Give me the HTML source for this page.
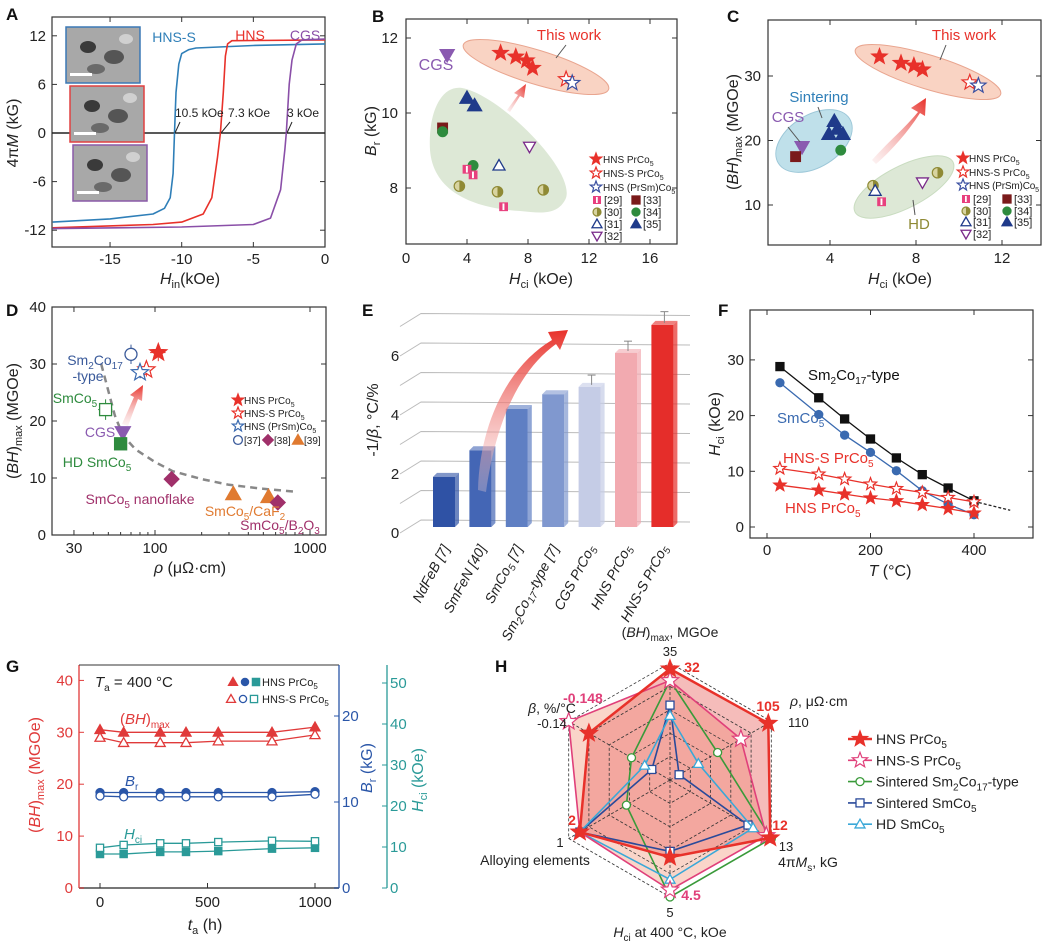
<!DOCTYPE html>
<html><head><meta charset="utf-8"><style>
html,body{margin:0;padding:0;background:#fff}
svg{display:block;font-family:"Liberation Sans",sans-serif}
</style></head><body>
<svg id="fig" width="1050" height="948" viewBox="0 0 1050 948" xmlns="http://www.w3.org/2000/svg">
<defs>
<linearGradient id="garr" x1="0" y1="1" x2="0" y2="0"><stop offset="0" stop-color="#f7d6d6" stop-opacity="0.3"/><stop offset="1" stop-color="#e8312a"/></linearGradient>
<linearGradient id="garr2" x1="0" y1="1" x2="1" y2="0"><stop offset="0" stop-color="#f3c0c0" stop-opacity="0.2"/><stop offset="1" stop-color="#e8312a"/></linearGradient>
</defs>
<g font-weight="bold" font-size="17" fill="#111">
<text x="6" y="20">A</text>
<text x="372" y="22">B</text>
<text x="727" y="22">C</text>
<text x="6" y="316">D</text>
<text x="362" y="316">E</text>
<text x="718" y="316">F</text>
<text x="6" y="672">G</text>
<text x="495" y="672">H</text>
</g>
</svg>
<script>
const NS="http://www.w3.org/2000/svg";
const svg=document.getElementById('fig');
function el(tag,attrs,parent){const e=document.createElementNS(NS,tag);for(const k in attrs)e.setAttribute(k,attrs[k]);(parent||svg).appendChild(e);return e;}
function txt(x,y,s,size,fill,anchor,extra){const t=el('text',Object.assign({x:x,y:y,'font-size':size||15,fill:fill||'#222','text-anchor':anchor||'middle'},extra||{}));t.innerHTML=s;return t;}
function starPts(cx,cy,R){let p=[];for(let i=0;i<10;i++){const r=i%2?R*0.42:R;const a=-Math.PI/2+i*Math.PI/5;p.push((cx+r*Math.cos(a)).toFixed(1)+','+(cy+r*Math.sin(a)).toFixed(1));}return p.join(' ');}
function mark(shape,cx,cy,s,fill,stroke){
  let e;
  if(shape==='star'){e=el('polygon',{points:starPts(cx,cy,s),fill:fill,stroke:stroke||fill,'stroke-width':1.2});}
  else if(shape==='tri'){e=el('polygon',{points:`${cx},${cy-s} ${cx-s},${cy+s*0.75} ${cx+s},${cy+s*0.75}`,fill:fill,stroke:stroke||fill,'stroke-width':1.3});}
  else if(shape==='tridown'){e=el('polygon',{points:`${cx},${cy+s} ${cx-s},${cy-s*0.75} ${cx+s},${cy-s*0.75}`,fill:fill,stroke:stroke||fill,'stroke-width':1.3});}
  else if(shape==='sq'){e=el('rect',{x:cx-s*0.8,y:cy-s*0.8,width:s*1.6,height:s*1.6,fill:fill,stroke:stroke||fill,'stroke-width':1.3});}
  else if(shape==='dia'){e=el('polygon',{points:`${cx},${cy-s} ${cx+s},${cy} ${cx},${cy+s} ${cx-s},${cy}`,fill:fill,stroke:stroke||fill});}
  else if(shape==='half'){e=el('circle',{cx:cx,cy:cy,r:s*0.8,fill:'#d8d4a0',stroke:'#8f8a35','stroke-width':1.2});el('path',{d:`M${cx},${cy-s*0.8} A${s*0.8},${s*0.8} 0 0 1 ${cx},${cy+s*0.8} Z`,fill:'#8f8a35'});}
  else if(shape==='pinksq'){e=el('rect',{x:cx-s*0.8,y:cy-s*0.8,width:s*1.6,height:s*1.6,fill:'#e8407e'});el('rect',{x:cx-s*0.2,y:cy-s*0.6,width:s*0.35,height:s*1.2,fill:'#fff'});}
  else {e=el('circle',{cx:cx,cy:cy,r:s*0.8,fill:fill,stroke:stroke||fill,'stroke-width':1.3});}
  return e;
}
function frame(x0,y0,x1,y1,name){const r=el('rect',{x:x0,y:y0,width:x1-x0,height:y1-y0,fill:'none',stroke:'#333','stroke-width':1.2});}
function yticks(vals,fy,x0,x1,lx,col){vals.forEach(v=>{el('line',{x1:x0,y1:fy(v),x2:x0+5,y2:fy(v),stroke:'#333'});if(x1)el('line',{x1:x1,y1:fy(v),x2:x1-5,y2:fy(v),stroke:'#333'});const t=txt(lx,fy(v)+5,String(v),15,col||'#222','end');});}
function xticks(vals,fx,y0,y1,ly,labels){vals.forEach((v,i)=>{el('line',{x1:fx(v),y1:y1,x2:fx(v),y2:y1-5,stroke:'#333'});if(y0)el('line',{x1:fx(v),y1:y0,x2:fx(v),y2:y0+5,stroke:'#333'});const t=txt(fx(v),ly,labels?labels[i]:String(v),15);});}

/* ===== Panel A data ===== */
const aTicksX=[-15,-10,-5,0];
const aTicksY=[-12,-6,0,6,12];
const aHnsSH=[-19,-15,-12,-11.2,-10.8,-10.6,-10.5,-10.4,-10.2,-10,-9.5,-9,-5,0];
const aHnsSM=[-11,-10.6,-10,-9.3,-8,-5,0,5,8.5,9.8,10.3,10.5,10.8,11];
const aHnsH=[-19,-12,-10,-8.5,-7.9,-7.5,-7.3,-7.1,-6.95,-6.8,-6.5,0];
const aHnsM=[-11.7,-11.3,-11,-10,-8,-3,0,5,9.5,11,11.4,11.5];
const aCgsH=[-19,-10,-5,-3.8,-3.1,-2.8,-2.7,-2.5,-2.3,-2,-1.6,0];
const aCgsM=[-11.8,-11.6,-11.3,-10.5,-7,-2,0,6,9,11,11.5,11.6];
{
const fx=h=>325+h*14.33, fy=m=>133-m*8.1;
frame(52,17,325,247,'panel-a-plot-area');
yticks(aTicksY,fy,52,325,46);
xticks(aTicksX,fx,17,247,264);
const z=el('line',{x1:52,y1:fy(0),x2:325,y2:fy(0),stroke:'#222','stroke-width':1.5});

[[66,27,'#3b78b5'],[70,86,'#e04040'],[73,145,'#8a5aa8']].forEach((b,i)=>{
 const g=el('g',{});
 el('rect',{x:b[0],y:b[1],width:74,height:56,fill:'#a8a8a8',stroke:b[2],'stroke-width':1.5},g);
 el('ellipse',{cx:b[0]+22,cy:b[1]+20,rx:8,ry:6,fill:'#3a3a3a'},g);
 el('ellipse',{cx:b[0]+48,cy:b[1]+30,rx:10,ry:7,fill:'#555'},g);
 el('ellipse',{cx:b[0]+60,cy:b[1]+12,rx:7,ry:5,fill:'#d0d0d0'},g);
 el('ellipse',{cx:b[0]+30,cy:b[1]+42,rx:9,ry:5,fill:'#6a6a6a'},g);
 el('rect',{x:b[0]+4,y:b[1]+46,width:22,height:3,fill:'#fff'},g);
});
const series=[[aHnsSH,aHnsSM,'#2f7fb8','hns-s-curve'],[aHnsH,aHnsM,'#e8312a','hns-curve'],[aCgsH,aCgsM,'#8a4fa8','cgs-curve']];
series.forEach(s=>{const d=s[0].map((h,i)=>(i?'L':'M')+fx(h).toFixed(1)+','+fy(s[1][i]).toFixed(1)).join(' ');
 const p=el('path',{d:d,fill:'none',stroke:s[2],'stroke-width':1.6,'stroke-linejoin':'round'});
 });
txt(174,42,'HNS-S',14,'#2f7fb8');txt(250,40,'HNS',14,'#e8312a');txt(305,40,'CGS',14,'#8a4fa8');
txt(175,117,'10.5 kOe',12,'#222','start');txt(228,117,'7.3 kOe',12,'#222','start');txt(287,117,'3 kOe',12,'#222','start');
[[180,122,175,133],[230,122,221,133],[292,122,287,133]].forEach(a=>el('line',{x1:a[0],y1:a[1],x2:a[2],y2:a[3],stroke:'#222'}));
txt(18,133,'4π<tspan font-style="italic">M</tspan> (kG)',16,'#222','middle',{transform:'rotate(-90 18 133)'});
txt(190,284,'<tspan font-style="italic">H</tspan><tspan font-size="11" dy="4">in</tspan><tspan dy="-4">(kOe)</tspan>',16);
}

/* ===== Panel B data ===== */
const bHnsX=[6.2,7.2,7.9,8.3], bHnsY=[11.6,11.5,11.4,11.2];
const bHnsSX=[10.5], bHnsSY=[10.9];
const bPrSmX=[10.9], bPrSmY=[10.8];
const bCgsX=[2.7], bCgsY=[11.55];
const b35X=[4,4.5], b35Y=[10.4,10.2];
const b33X=[2.4], b33Y=[9.6];
const b34X=[2.4,4.4], b34Y=[9.5,8.6];
const b31X=[6.1], b31Y=[8.6];
const b32X=[8.1], b32Y=[9.1];
const b29X=[4,4.4,6.4], b29Y=[8.5,8.35,7.5];
const b30X=[3.5,6,9], b30Y=[8.05,7.9,7.95];
{
const fx=v=>406+v*15.25, fy=v=>188-(v-8)*37.5;
const blob=el('path',{d:'M462,88 C500,95 575,170 566,198 C558,216 540,213 520,211 C470,208 433,190 430,150 C428,115 440,85 462,88 Z',fill:'#dde8d6'});

const ell=el('ellipse',{cx:536,cy:67,rx:76,ry:17,fill:'#f9d3c3',stroke:'#e9a58f',transform:'rotate(17 536 67)'});

frame(406,19,677,244,'panel-b-plot-area');
yticks([8,10,12],fy,406,677,398);
xticks([0,4,8,12,16],fx,19,244,263);
const ar=el('polygon',{points:'507,110 518,95 514,93 526,84 524,98 520,96 510,112',fill:'url(#garr2)'});

const groups=[[bHnsX,bHnsY,'star','#e8312a',null,8,'hns-star'],[bHnsSX,bHnsSY,'star','#fff','#e8312a',8,'hns-s-star'],[bPrSmX,bPrSmY,'star','#fff','#3a4fa0',8,'prsm-star'],[bCgsX,bCgsY,'tridown','#8a5ab0',null,7,'cgs-marker'],[b35X,b35Y,'tri','#1f3a8a',null,7,'ref35-marker'],[b33X,b33Y,'sq','#7a1a1a',null,6,'ref33-marker'],[b34X,b34Y,'circ','#2e8b3e',null,6,'ref34-marker'],[b31X,b31Y,'tri','#fff','#1f3a8a',6,'ref31-marker'],[b32X,b32Y,'tridown','#fff','#7a2a8a',6,'ref32-marker'],[b29X,b29Y,'pinksq','#e8407e',null,5.5,'ref29-marker'],[b30X,b30Y,'half','#8f8a35',null,6.5,'ref30-marker']];
groups.forEach(g=>g[0].forEach((x,i)=>{const m=mark(g[2],fx(x),fy(g[1][i]),g[5],g[3],g[4]);
 }));
txt(569,40,'This work',15,'#e8312a');el('line',{x1:566,y1:45,x2:556,y2:58,stroke:'#555'});
txt(436,70,'CGS',16,'#8a5ab0');
const L=[[159,'star','#e8312a',null,'HNS PrCo<tspan font-size="7" dy="3">5</tspan>'],[173,'star','#fff','#e8312a','HNS-S PrCo<tspan font-size="7" dy="3">5</tspan>'],[187,'star','#fff','#3a4fa0','HNS (PrSm)Co<tspan font-size="7" dy="3">5</tspan>']];
L.forEach(l=>{const m=mark(l[1],596,l[0],6,l[2],l[3]);const t=txt(603,l[0]+4,l[4],10,'#222','start');});
const L2=[[200,597,'pinksq','#e8407e',null,'[29]'],[200,636,'sq','#7a1a1a',null,'[33]'],[212,597,'half','',null,'[30]'],[212,636,'circ','#2e8b3e',null,'[34]'],[224,597,'tri','#fff','#1f3a8a','[31]'],[224,636,'tri','#1f3a8a',null,'[35]'],[236,597,'tridown','#fff','#7a2a8a','[32]']];
L2.forEach(l=>{const m=mark(l[2],l[1],l[0],5,l[3],l[4]);const t=txt(l[1]+7,l[0]+4,l[5],11,'#222','start');});
txt(376,131,'<tspan font-style="italic">B</tspan><tspan font-size="11" dy="4">r</tspan><tspan dy="-4"> (kG)</tspan>',16,'#222','middle',{transform:'rotate(-90 376 131)'});
txt(541,284,'<tspan font-style="italic">H</tspan><tspan font-size="11" dy="4">ci</tspan><tspan dy="-4"> (kOe)</tspan>',16);
}

/* ===== Panel C data ===== */
const cHnsX=[6.3,7.3,7.9,8.3], cHnsY=[33,32,31.6,31];
const cHnsSX=[10.5], cHnsSY=[29];
const cPrSmX=[10.9], cPrSmY=[28.5];
const cCgsX=[2.7], cCgsY=[19];
const c33X=[2.4], c33Y=[17.5];
const c35X=[4.2,3.95,4.35,4.6], c35Y=[23,21,21.8,21];
const c34X=[4.5], c34Y=[18.5];
const c30X=[6,9], c30Y=[13,15];
const c31X=[6.1], c31Y=[12.2];
const c29X=[6.4], c29Y=[10.5];
const c32X=[8.3], c32Y=[13.5];
{
const fx=v=>830+(v-4)*21.5, fy=v=>205-(v-10)*6.45;
[[928,72,76,17,17,'#f9d3c3','#e9a58f','this-work-region'],[814,141,42,26,-32,'#bfe0ea','#9cc7d8','sintering-region'],[904,187,55,21,-27,'#dde8d6','#c9dcc0','hd-region']].forEach(b=>{
 const e=el('ellipse',{cx:b[0],cy:b[1],rx:b[2],ry:b[3],fill:b[5],stroke:b[6],transform:`rotate(${b[4]} ${b[0]} ${b[1]})`});
 });
frame(768,20,1041,245,'panel-c-plot-area');
yticks([10,20,30],fy,768,1041,761);
xticks([4,8,12],fx,20,245,263);
const ar=el('path',{d:'M872,160 C890,140 905,128 918,112 L911,108 L926,98 L925,116 L920,113 C908,132 892,150 876,164 Z',fill:'url(#garr2)'});

const groups=[[cHnsX,cHnsY,'star','#e8312a',null,8,'hns-star'],[cHnsSX,cHnsSY,'star','#fff','#e8312a',8,'hns-s-star'],[cPrSmX,cPrSmY,'star','#fff','#3a4fa0',8,'prsm-star'],[cCgsX,cCgsY,'tridown','#8a5ab0',null,7,'cgs-marker'],[c33X,c33Y,'sq','#7a1a1a',null,6,'ref33-marker'],[c35X,c35Y,'tri','#1f3a8a',null,7,'ref35-marker'],[c34X,c34Y,'circ','#2e8b3e',null,6,'ref34-marker'],[c30X,c30Y,'half','',null,6.5,'ref30-marker'],[c31X,c31Y,'tri','#fff','#1f3a8a',6,'ref31-marker'],[c29X,c29Y,'pinksq','#e8407e',null,5.5,'ref29-marker'],[c32X,c32Y,'tridown','#fff','#7a2a8a',6,'ref32-marker']];
groups.forEach(g=>g[0].forEach((x,i)=>{const m=mark(g[2],fx(x),fy(g[1][i]),g[5],g[3],g[4]);
 }));
txt(964,40,'This work',15,'#e8312a');el('line',{x1:946,y1:45,x2:940,y2:60,stroke:'#555'});
txt(819,102,'Sintering',15,'#2f7fb8');el('line',{x1:818,y1:107,x2:822,y2:118,stroke:'#555'});
txt(788,122,'CGS',15,'#8a5ab0');el('line',{x1:788,y1:127,x2:800,y2:142,stroke:'#555'});
txt(919,229,'HD',15,'#8f8a35');el('line',{x1:915,y1:215,x2:913,y2:200,stroke:'#555'});
const L=[[158,'star','#e8312a',null,'HNS PrCo<tspan font-size="7" dy="3">5</tspan>'],[172,'star','#fff','#e8312a','HNS-S PrCo<tspan font-size="7" dy="3">5</tspan>'],[185,'star','#fff','#3a4fa0','HNS (PrSm)Co<tspan font-size="7" dy="3">5</tspan>']];
L.forEach(l=>{const m=mark(l[1],963,l[0],6,l[2],l[3]);const t=txt(969,l[0]+4,l[4],10,'#222','start',{textLength:l[0]===185?70:null});});
const L2=[[199,966,'pinksq','#e8407e',null,'[29]'],[199,1007,'sq','#7a1a1a',null,'[33]'],[211,966,'half','',null,'[30]'],[211,1007,'circ','#2e8b3e',null,'[34]'],[222,966,'tri','#fff','#1f3a8a','[31]'],[222,1007,'tri','#1f3a8a',null,'[35]'],[234,966,'tridown','#fff','#7a2a8a','[32]']];
L2.forEach(l=>{const m=mark(l[2],l[1],l[0],5,l[3],l[4]);const t=txt(l[1]+7,l[0]+4,l[5],11,'#222','start');});
txt(738,132,'(<tspan font-style="italic">BH</tspan>)<tspan font-size="11" dy="4">max</tspan><tspan dy="-4"> (MGOe)</tspan>',16,'#222','middle',{transform:'rotate(-90 738 132)'});
txt(900,284,'<tspan font-style="italic">H</tspan><tspan font-size="11" dy="4">ci</tspan><tspan dy="-4"> (kOe)</tspan>',16);
}

/* ===== Panel D data ===== */
const dRho=[105,88,80,70,48,62,60,128,320,540,620];
const dBH=[32,29,28.5,31.7,22,18,16,9.8,7.2,6.7,5.7];
const dShape=['star','star','star','circ','sq','tridown','sq','dia','tri','tri','dia'];
const dFill=['#e8312a','#fff','#fff','#fff','#fff','#8a5ab0','#2e8b3e','#a0306a','#e07a30','#e07a30','#a0306a'];
const dStroke=['#e8312a','#e8312a','#3a6ab0','#3a5a9a','#2e8b3e','#8a5ab0','#2e8b3e','#a0306a','#e07a30','#e07a30','#a0306a'];
const dErrX=[12,8,4,0,5,0,0,0,0,0,0];
const dErrY=[1.5,1.2,1,1.7,1.8,0,0,0,0,0,0];
const dFitRho=[45,55,62,75,100,130,200,300,500,800];
const dFitBH=[30,21,17.5,15,12.8,11.2,9.8,8.8,8.1,7.6];
{
const lx=r=>155+(Math.log10(r)-2)*155, fy=v=>535-v*5.7;
frame(52,307,326,535,'panel-d-plot-area');
yticks([0,10,20,30,40],fy,52,326,46);
xticks([30,100,1000],lx,307,535,553);
[40,50,60,70,80,90,200,300,400,500,600,700,800,900].forEach(v=>{el('line',{x1:lx(v),y1:535,x2:lx(v),y2:532,stroke:'#333'});});
const fit=el('path',{d:dFitRho.map((r,i)=>(i?'L':'M')+lx(r).toFixed(1)+','+fy(dFitBH[i]).toFixed(1)).join(' '),fill:'none',stroke:'#888','stroke-width':2.5,'stroke-dasharray':'7,5'});

const ar=el('polygon',{points:'122,424 134,397 130,395 143,385 142,401 138,399 128,426',fill:'url(#garr)'});

dRho.forEach((r,i)=>{const cx=lx(r),cy=fy(dBH[i]);
 if(dErrX[i]){el('line',{x1:lx(r-dErrX[i]),y1:cy,x2:lx(r+dErrX[i]),y2:cy,stroke:dStroke[i]});}
 if(dErrY[i]){el('line',{x1:cx,y1:fy(dBH[i]-dErrY[i]),x2:cx,y2:fy(dBH[i]+dErrY[i]),stroke:dStroke[i]});}
 const m=mark(dShape[i],cx,cy,dShape[i]==='star'?9:7.5,dFill[i],dStroke[i]);
 });
txt(95,365,'Sm<tspan font-size="10" dy="4">2</tspan><tspan dy="-4">Co</tspan><tspan font-size="10" dy="4">17</tspan>',14,'#3a5a9a','middle');
txt(88,381,'-type',14,'#3a5a9a');
txt(75,403,'SmCo<tspan font-size="10" dy="4">5</tspan>',14,'#2e8b3e');
txt(100,437,'CGS',14,'#8a5ab0');
txt(97,467,'HD SmCo<tspan font-size="10" dy="4">5</tspan>',14,'#2e8b3e');
txt(140,504,'SmCo<tspan font-size="10" dy="4">5</tspan><tspan dy="-4"> nanoflake</tspan>',14,'#a0306a');
txt(245,516,'SmCo<tspan font-size="10" dy="4">5</tspan><tspan dy="-4">/CaF</tspan><tspan font-size="10" dy="4">2</tspan>',14,'#e07a30');
txt(280,530,'SmCo<tspan font-size="10" dy="4">5</tspan><tspan dy="-4">/B</tspan><tspan font-size="10" dy="4">2</tspan><tspan dy="-4">O</tspan><tspan font-size="10" dy="4">3</tspan>',14,'#a0306a');
[[400,'star','#e8312a',null,'HNS PrCo<tspan font-size="7" dy="3">5</tspan>'],[413,'star','#fff','#e8312a','HNS-S PrCo<tspan font-size="7" dy="3">5</tspan>'],[426,'star','#fff','#3a6ab0','HNS (PrSm)Co<tspan font-size="7" dy="3">5</tspan>']].forEach(l=>{const m=mark(l[1],238,l[0],6,l[2],l[3]);const t=txt(244,l[0]+4,l[4],10,'#222','start');});
[[238,'circ','#fff','#3a5a9a','[37]'],[268,'dia','#a0306a',null,'[38]'],[298,'tri','#e07a30',null,'[39]']].forEach(l=>{const m=mark(l[1],l[0],440,5.5,l[2],l[3]);const t=txt(l[0]+6,444,l[4],10,'#222','start');});
txt(18,421,'(<tspan font-style="italic">BH</tspan>)<tspan font-size="11" dy="4">max</tspan><tspan dy="-4"> (MGOe)</tspan>',16,'#222','middle',{transform:'rotate(-90 18 421)'});
txt(190,573,'<tspan font-style="italic">ρ</tspan> (μΩ·cm)',16);
}

/* ===== Panel E data ===== */
const eCats=['NdFeB [7]','SmFeN [40]','SmCo<tspan font-size="10" dy="3">5</tspan><tspan dy="-3"> [7]</tspan>','Sm<tspan font-size="10" dy="3">2</tspan><tspan dy="-3">Co</tspan><tspan font-size="10" dy="3">17</tspan><tspan dy="-3">-type [7]</tspan>','CGS PrCo<tspan font-size="10" dy="3">5</tspan>','HNS PrCo<tspan font-size="10" dy="3">5</tspan>','HNS-S PrCo<tspan font-size="10" dy="3">5</tspan>'];
const eVals=[1.7,2.6,4.0,4.5,4.75,5.9,6.85];
const eErr=[0,0,0,0,0.15,0.15,0.2];
const eTicks=[0,2,4,6];
{
const base=527, k=29.5, fy=v=>base-v*k;
const colors=['#2f52a5','#4466b5','#5f7fc3','#8098cf','#c5cce6','#f2aab0','#e52d2a'];
for(let v=0;v<=7;v++){const y=520-v*k;const g=el('path',{d:`M400,${y+13} L421,${y} L690,${y+2}`,fill:'none',stroke:'#bbb','stroke-width':1});}
eTicks.forEach(v=>{const t=txt(395,533-v*29.5+5,String(v),15,'#222','middle');});
eVals.forEach((v,i)=>{const x=433+i*36.4, w=22, top=fy(v);
 const g=el('g',{});
 el('polygon',{points:`${x+w},${top} ${x+w+4},${top-4} ${x+w+4},${base-4} ${x+w},${base}`,fill:colors[i],opacity:0.7},g);
 el('polygon',{points:`${x},${top} ${x+4},${top-4} ${x+w+4},${top-4} ${x+w},${top}`,fill:colors[i],opacity:0.6},g);
 el('rect',{x:x,y:top,width:w,height:base-top,fill:colors[i]},g);
 if(eErr[i]){el('line',{x1:x+w/2+2,y1:top-2,x2:x+w/2+2,y2:fy(v+eErr[i]+0.25),stroke:'#888'},g);el('line',{x1:x+w/2-2,y1:fy(v+eErr[i]+0.25),x2:x+w/2+6,y2:fy(v+eErr[i]+0.25),stroke:'#888'},g);}
 const t=txt(x+w/2+6,548,eCats[i],14,'#222','end',{transform:`rotate(-62 ${x+w/2+6} 548)`,'font-style':'italic'});
 });
const ar=el('path',{d:'M478,490 C480,420 510,365 552,340 L548,332 L568,330 L560,350 L556,344 C520,370 496,420 486,492 Z',fill:'url(#garr)'});

txt(378,420,'-1/<tspan font-style="italic">β</tspan>, °C/%',16,'#222','middle',{transform:'rotate(-90 378 420)'});
}

/* ===== Panel F data ===== */
const fTemp=[25,100,150,200,250,300,350,400];
const fSm217=[28.8,23.2,19.4,15.8,12.4,9.4,7,4.7];
const fSmCo5=[25.9,20.2,16.5,13.4,10.1,6.5,4.1,2.2];
const fHnsS=[10.5,9.5,8.6,7.7,6.9,6.2,5.3,4.5];
const fHns=[7.5,6.6,5.9,5.2,4.7,4.0,3.3,2.5];
const fExtT=[400,470], fExtV=[4.6,3.0];
{
const fx=t=>767+t*0.5175, fy=v=>527-v*5.57;
frame(750,310,1033,538,'panel-f-plot-area');
yticks([0,10,20,30],fy,750,1033,744);
xticks([0,200,400],fx,310,538,555);
const ext=el('path',{d:`M${fx(fExtT[0])},${fy(fExtV[0])} L${fx(fExtT[1])},${fy(fExtV[1])}`,stroke:'#222','stroke-dasharray':'3,2','stroke-width':1.3});

[[fSm217,'#111','sq','#111','sm2co17-series'],[fSmCo5,'#3a6ab0','circ','#3a6ab0','smco5-series'],[fHnsS,'#e8312a','star','#fff','hns-s-series'],[fHns,'#e8312a','star','#e8312a','hns-series']].forEach(s=>{
 const p=el('path',{d:fTemp.map((t,i)=>(i?'L':'M')+fx(t).toFixed(1)+','+fy(s[0][i]).toFixed(1)).join(' '),fill:'none',stroke:s[1],'stroke-width':1.3});
 
 fTemp.forEach((t,i)=>{const m=mark(s[2],fx(t),fy(s[0][i]),s[2]==='star'?6.5:5,s[3],s[1]);
  });});
txt(808,380,'Sm<tspan font-size="10" dy="4">2</tspan><tspan dy="-4">Co</tspan><tspan font-size="10" dy="4">17</tspan><tspan dy="-4">-type</tspan>',15,'#111','start');
txt(777,423,'SmCo<tspan font-size="10" dy="4">5</tspan>',15,'#3a6ab0','start');
txt(783,463,'HNS-S PrCo<tspan font-size="10" dy="4">5</tspan>',15,'#e8312a','start');
txt(785,513,'HNS PrCo<tspan font-size="10" dy="4">5</tspan>',15,'#e8312a','start');
txt(720,424,'<tspan font-style="italic">H</tspan><tspan font-size="11" dy="4">ci</tspan><tspan dy="-4"> (kOe)</tspan>',16,'#222','middle',{transform:'rotate(-90 720 424)'});
txt(890,576,'<tspan font-style="italic">T</tspan> (°C)',16);
}

/* ===== Panel G data ===== */
const gTime=[0,110,280,400,550,800,1000];
const gBhHns=[30.5,30,30,30,30,30,31];
const gBhHnsS=[29,28,28,28,28.3,28.3,29.5];
const gBrHns=[11.1,11.1,11.1,11.1,11.1,11.1,11.2];
const gBrHnsS=[10.7,10.6,10.6,10.6,10.6,10.6,10.9];
const gHciHns=[8.3,8.3,8.8,8.8,9.0,9.6,9.8];
const gHciHnsS=[9.8,10.5,10.9,10.9,11.2,11.5,11.4];
{
const fx=t=>100+t*0.215, yL=v=>888-v*5.19, yB=v=>888-v*8.6, yH=v=>888-v*4.1;
const red='#e03a3a', blue='#2a56a8', teal='#2a9a98';
el('line',{x1:79,y1:665,x2:79,y2:888,stroke:red,'stroke-width':1.3});
el('line',{x1:79,y1:888,x2:339,y2:888,stroke:'#777','stroke-width':2});
el('line',{x1:79,y1:665,x2:339,y2:665,stroke:'#333'});
el('line',{x1:339,y1:665,x2:339,y2:888,stroke:blue,'stroke-width':1.3});
el('line',{x1:387,y1:665,x2:387,y2:888,stroke:teal,'stroke-width':1.3});
[0,10,20,30,40].forEach(v=>{el('line',{x1:79,y1:yL(v),x2:84,y2:yL(v),stroke:red});const t=txt(73,yL(v)+5,String(v),15,red,'end');});
[0,10,20].forEach(v=>{el('line',{x1:339,y1:yB(v),x2:334,y2:yB(v),stroke:blue});const t=txt(342,yB(v)+5,String(v),15,blue,'start');});
[0,10,20,30,40,50].forEach(v=>{el('line',{x1:387,y1:yH(v),x2:382,y2:yH(v),stroke:teal});const t=txt(390,yH(v)+5,String(v),15,teal,'start');});
[0,500,1000].forEach(v=>{el('line',{x1:fx(v),y1:888,x2:fx(v),y2:883,stroke:'#333'});const t=txt(fx(v),907,String(v),15);});
const S=[[gBhHns,yL,'tri',red,red,'bh-hns'],[gBhHnsS,yL,'tri','#fff',red,'bh-hns-s'],[gBrHns,yB,'circ',blue,blue,'br-hns'],[gBrHnsS,yB,'circ','#fff',blue,'br-hns-s'],[gHciHns,yH,'sq',teal,teal,'hci-hns'],[gHciHnsS,yH,'sq','#fff',teal,'hci-hns-s']];
S.forEach(s=>{const p=el('path',{d:gTime.map((t,i)=>(i?'L':'M')+fx(t).toFixed(1)+','+s[1](s[0][i]).toFixed(1)).join(' '),fill:'none',stroke:s[4],'stroke-width':1.3});
 
 gTime.forEach((t,i)=>{const m=mark(s[2],fx(t),s[1](s[0][i]),s[2]==='sq'?4.5:5,s[3],s[4]);
  });});
txt(95,687,'<tspan font-style="italic">T</tspan><tspan font-size="10" dy="4">a</tspan><tspan dy="-4"> = 400 °C</tspan>',15,'#222','start');
[[233,'tri',red],[245,'circ',blue],[256,'sq',teal]].forEach(l=>{const m=mark(l[1],l[0],682,4.5,l[2],l[2]);const n=mark(l[1],l[0]-2,699,4.5,'#fff',l[2]);});
const t1=txt(262,686,'HNS PrCo<tspan font-size="8" dy="3">5</tspan>',11,'#222','start');
const t2=txt(262,703,'HNS-S PrCo<tspan font-size="8" dy="3">5</tspan>',11,'#222','start');
txt(120,724,'(<tspan font-style="italic">BH</tspan>)<tspan font-size="10" dy="4">max</tspan>',15,red,'start');
txt(125,786,'<tspan font-style="italic">B</tspan><tspan font-size="10" dy="4">r</tspan>',15,blue,'start');
txt(124,839,'<tspan font-style="italic">H</tspan><tspan font-size="10" dy="4">ci</tspan>',15,teal,'start');
txt(40,775,'(<tspan font-style="italic">BH</tspan>)<tspan font-size="11" dy="4">max</tspan><tspan dy="-4"> (MGOe)</tspan>',16,red,'middle',{transform:'rotate(-90 40 775)'});
txt(372,768,'<tspan font-style="italic">B</tspan><tspan font-size="11" dy="4">r</tspan><tspan dy="-4"> (kG)</tspan>',16,blue,'middle',{transform:'rotate(-90 372 768)'});
txt(423,780,'<tspan font-style="italic">H</tspan><tspan font-size="11" dy="4">ci</tspan><tspan dy="-4"> (kOe)</tspan>',16,teal,'middle',{transform:'rotate(-90 423 780)'});
txt(205,930,'<tspan font-style="italic">t</tspan><tspan font-size="11" dy="4">a</tspan><tspan dy="-4"> (h)</tspan>',16);
}

/* ===== Panel H data (fraction of axis radius; axes clockwise from top) ===== */
const hAxes=['(BH)max','rho','4piMs','Hci400','alloying','beta'];
const hHns=[0.95,0.97,0.99,0.66,0.89,0.80];
const hHnsS=[0.85,0.70,0.95,0.94,0.89,1.0];
const hSm217=[0.85,0.47,1.0,1.0,0.43,0.38];
const hSmCo5=[0.64,0.09,0.77,0.61,0.89,0.18];
const hHD=[0.55,0.28,0.82,0.85,0.89,0.25];
{
const cx=670, cy=780, R=117;
const pt=(i,f)=>{const a=-Math.PI/2+i*Math.PI/3;return [cx+R*f*Math.cos(a),cy+R*f*Math.sin(a)];};
const poly=vals=>vals.map((f,i)=>pt(i,f).map(v=>v.toFixed(1)).join(',')).join(' ');
const fS=el('polygon',{points:poly(hHnsS),fill:'#f5b39c',opacity:0.55});
const fH=el('polygon',{points:poly(hHns),fill:'#ec7a76',opacity:0.5});
[0.2,0.4,0.6,0.8,1.0].forEach(f=>{const r=el('polygon',{points:poly([f,f,f,f,f,f]),fill:'none',stroke:'#333','stroke-dasharray':'3,2','stroke-width':0.8});});
for(let i=0;i<6;i++){const p=pt(i,1);el('line',{x1:cx,y1:cy,x2:p[0],y2:p[1],stroke:'#333','stroke-dasharray':'3,2','stroke-width':0.8});}
const S=[[hSm217,'#3a9a3a','circ','#fff','sm2co17'],[hSmCo5,'#2a4a9a','sq','#fff','smco5'],[hHD,'#3aa8d8','tri','#fff','hd-smco5'],[hHnsS,'#e0407a','star','#fff','hns-s'],[hHns,'#e8312a','star','#e8312a','hns']];
S.forEach(s=>{const p=el('polygon',{points:poly(s[0]),fill:'none',stroke:s[1],'stroke-width':s[4]==='hns'?2.5:1.6});
 
 s[0].forEach((f,i)=>{const q=pt(i,f);const m=mark(s[2],q[0],q[1],s[2]==='star'?9:5,s[3],s[1]);
  });});
txt(670,637,'(<tspan font-style="italic">BH</tspan>)<tspan font-size="10" dy="4">max</tspan><tspan dy="-4">, MGOe</tspan>',14);
txt(670,656,'35',13);txt(692,672,'32',14,'#e8312a','middle',{'font-weight':'bold'});
txt(790,706,'<tspan font-style="italic">ρ</tspan>, μΩ·cm',14,'#222','start');
txt(788,727,'110',13,'#222','start');txt(768,711,'105',14,'#e8312a','middle',{'font-weight':'bold'});
txt(552,713,'<tspan font-style="italic">β</tspan>, %/°C',14);
txt(583,703,'-0.148',14,'#e0407a','middle',{'font-weight':'bold'});
txt(552,728,'-0.14',13);
txt(572,825,'2',14,'#e8312a','middle',{'font-weight':'bold'});
txt(560,847,'1',13);txt(535,865,'Alloying elements',14);
txt(780,830,'12',14,'#e8312a','middle',{'font-weight':'bold'});
txt(786,851,'13',13);txt(808,867,'4π<tspan font-style="italic">M</tspan><tspan font-size="10" dy="4">s</tspan><tspan dy="-4">, kG</tspan>',14);
txt(691,900,'4.5',14,'#e0407a','middle',{'font-weight':'bold'});
txt(670,917,'5',13);
txt(670,937,'<tspan font-style="italic">H</tspan><tspan font-size="10" dy="4">ci</tspan><tspan dy="-4"> at 400 °C, kOe</tspan>',14);
const LG=[['#e8312a','star','#e8312a','HNS PrCo<tspan font-size="10" dy="4">5</tspan>'],['#e0407a','star','#fff','HNS-S PrCo<tspan font-size="10" dy="4">5</tspan>'],['#3a9a3a','circ','#fff','Sintered Sm<tspan font-size="10" dy="4">2</tspan><tspan dy="-4">Co</tspan><tspan font-size="10" dy="4">17</tspan><tspan dy="-4">-type</tspan>'],['#2a4a9a','sq','#fff','Sintered SmCo<tspan font-size="10" dy="4">5</tspan>'],['#3aa8d8','tri','#fff','HD SmCo<tspan font-size="10" dy="4">5</tspan>']];
LG.forEach((l,i)=>{const y=739+i*21.3;el('line',{x1:848,y1:y,x2:872,y2:y,stroke:l[0],'stroke-width':i?1.6:2.5});
 const m=mark(l[1],860,y,l[1]==='star'?8:5,l[2],l[0]);
 const t=txt(876,y+5,l[3],14,'#222','start');});
}
</script>
</body></html>
